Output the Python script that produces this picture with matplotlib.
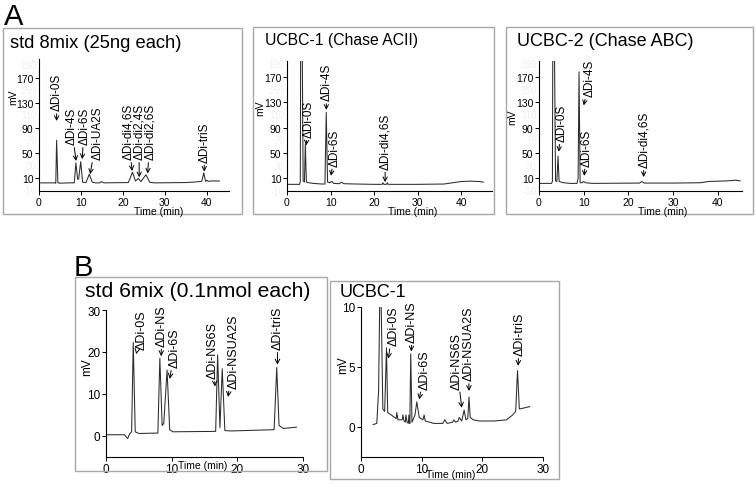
import matplotlib
matplotlib.use("Agg")
import matplotlib.pyplot as plt
from matplotlib.patches import Rectangle

plt.rcParams['font.family'] = ['Liberation Sans', 'DejaVu Sans']

# ---------------- data ----------------
# Panel A1: std 8mix (25ng each)
a1_time = [0.4, 3.8, 4.0, 4.2, 4.5, 5.0, 7.0, 8.4, 8.8, 9.2, 9.45, 9.95, 10.4, 11.2, 12.0, 12.7,
           13.5, 14.5, 14.8, 15.5, 21.3, 22.3, 23.0, 23.7, 24.3, 25.5, 26.4, 27.5, 35.0, 37.5,
           38.8, 39.3, 39.7, 40.0, 40.3, 41.0, 43.0]
a1_mv = [2, 2, 1.5, 70, 2, 1.5, 2, 2, 34, 8, 8, 36, 3, 2.5, 16, 3,
         2, 2, 4, 2, 2.5, 19, 5, 9, 4, 15, 3, 2, 2.5, 3.5,
         4.5, 18, 4.5, 6, 4.5, 5, 5]
a1_names = ['ΔDi-0S', 'ΔDi-4S', 'ΔDi-6S', 'ΔDi-UA2S', 'ΔDi-di4,6S', 'ΔDi-di2,4S', 'ΔDi-di2,6S', 'ΔDi-triS']

# Panel A2: UCBC-1 (Chase ACII)
a2_time = [0, 2.9, 3.05, 3.15, 3.45, 3.7, 4.0, 4.2, 4.45, 5.0, 6.0, 8.0, 8.7, 9.0, 9.3, 9.8,
           10.3, 10.7, 12.0, 12.5, 13.0, 16.0, 20.0, 21.8, 22.0, 22.2, 22.8, 23.0, 23.2, 30.0,
           36.0, 38.0, 40.0, 42.0, 44.0, 45.0]
a2_mv = [0.5, 0.5, 5, 260, 260, 6, 4, 64, 4, 3, 2, 1, 1, 114, 4, 3,
         5, 2, 1.5, 4, 1.5, 1, 0.5, 0.5, 3, 0.5, 0.5, 3, 0.5, 0.5,
         1, 3, 5, 5.5, 5, 4]
a2_names = ['ΔDi-0S', 'ΔDi-4S', 'ΔDi-6S', 'ΔDi-di4,6S']

# Panel A3: UCBC-2 (Chase ABC)
a3_time = [0, 2.8, 3.0, 3.1, 3.4, 3.7, 4.0, 4.25, 4.5, 5.5, 7.0, 8.5, 8.75, 8.95, 9.2, 9.6,
           10.0, 10.4, 12.0, 22.5, 23.0, 23.5, 30, 36, 38, 40, 42, 44, 45]
a3_mv = [2, 2, 5, 260, 260, 6, 5, 45, 5, 3, 2, 2, 10, 178, 3, 3,
         5, 3, 2, 2.5, 5, 2.5, 2.5, 3, 5, 5.5, 6, 7, 6]
a3_names = ['ΔDi-0S', 'ΔDi-4S', 'ΔDi-6S', 'ΔDi-di4,6S']

# Panel B1: std 6mix (0.1nmol each)
b1_time = [0.0, 2.8, 3.3, 3.6, 3.9, 4.15, 4.45, 5.0, 7.9, 8.2, 8.55, 8.8, 9.3, 9.7, 10.2,
           16.7, 17.0, 17.35, 17.7, 18.1, 19.0, 25.6, 26.0, 26.35, 27.0, 29.0]
b1_mv = [0.3, 0.3, -0.6, 0.5, 1.0, 22.3, 1.0, 0.6, 0.7, 18.5, 2.5, 3.0, 15.7, 1.5, 1.0,
         1.1, 19.3, 2.0, 16.0, 1.3, 1.2, 1.5, 16.3, 2.5, 1.8, 2.1]
b_names = ['ΔDi-0S', 'ΔDi-NS', 'ΔDi-6S', 'ΔDi-NS6S', 'ΔDi-NSUA2S', 'ΔDi-triS']

# Panel B2: UCBC-1
b2_time = [2.0, 2.6, 2.9, 3.1, 3.3, 3.6, 3.9, 4.2, 4.4, 5.0, 5.8, 5.9, 6.1, 6.8, 6.9, 7.1,
           7.3, 7.4, 7.6, 7.8, 7.9, 8.05, 8.2, 8.4, 8.9, 9.2, 9.6, 10.2, 10.4, 10.6, 12.0,
           13.5, 13.8, 14.2, 15.1, 15.3, 15.6, 16.0, 16.2, 16.6, 17.0, 17.3, 17.6, 17.8, 18.0,
           18.5, 19.5, 22.0, 24.0, 25.0, 25.5, 25.8, 26.1, 27.0, 27.8]
b2_mv = [0.2, 0.3, 3.0, 11, 11, 1.5, 1.3, 6.6, 1.2, 1.0, 0.7, 1.2, 0.6, 0.6, 1.0, 0.5,
         0.4, 1.0, 0.4, 0.3, 1.0, 0.3, 6.1, 0.4, 1.0, 2.1, 0.8, 0.6, 1.0, 0.5, 0.3,
         0.3, 0.6, 0.3, 0.4, 0.6, 0.4, 0.5, 0.8, 0.5, 1.4, 0.6, 0.7, 2.5, 0.8,
         0.6, 0.5, 0.5, 0.6, 1.0, 1.3, 4.7, 1.5, 1.6, 1.7]

# ---------------- layout ----------------
W, H = 756, 485
fig = plt.figure(figsize=(W / 100, H / 100), dpi=100)


def frac_rect(l, t, r, b):
    return [l / W, 1 - b / H, (r - l) / W, (b - t) / H]


def fx(px):
    return px / W


def fy(py):
    return 1 - py / H


line_col = '#2b2b2b'
box_col = '#a8a8a8'

for (l, t, r, b) in [(3, 29, 242, 215), (253, 28, 494, 215), (506, 28, 753, 215),
                     (75, 278, 327, 472), (330, 282, 559, 480)]:
    fig.patches.append(Rectangle((fx(l), fy(b)), (r - l) / W, (b - t) / H, transform=fig.transFigure,
                                 fill=False, edgecolor=box_col, lw=1.0))


def make_axes(rect, xlim, ylim, xticks, yticks, ticksize):
    ax = fig.add_axes(frac_rect(*rect))
    ax.set_xlim(*xlim)
    ax.set_ylim(*ylim)
    ax.set_xticks(xticks)
    ax.set_yticks(yticks)
    for s in ['top', 'right']:
        ax.spines[s].set_visible(False)
    for s in ['left', 'bottom']:
        ax.spines[s].set_linewidth(0.8)
    ax.tick_params(length=3, width=0.7, pad=1.0, labelsize=ticksize)
    ax.patch.set_alpha(0)
    return ax


def annotate(ax, names, text_pos, tips, size):
    for name, (tx, ty), (ax_, ay) in zip(names, text_pos, tips):
        ax.annotate(name, xy=(ax_, ay), xytext=(tx, ty), rotation=90, ha='center', va='bottom',
                    fontsize=size, annotation_clip=False,
                    arrowprops=dict(arrowstyle='->,head_length=0.35,head_width=0.18', lw=0.7,
                                    color='black', shrinkA=0.5, shrinkB=0))


# ---- A panels ----
a_yt = [10, 50, 90, 130, 170]
a_faint = [-10, 30, 70, 110, 150, 190]

ax1 = make_axes((39, 60, 229, 192), (0, 45.3), (-11, 200), [0, 10, 20, 30, 40], a_yt, 7.5)
ax1.plot(a1_time, a1_mv, color=line_col, lw=0.75)
annotate(ax1, a1_names,
         [(4.2, 118), (7.7, 64), (10.8, 64), (13.9, 40), (21.2, 40), (23.8, 40), (26.6, 40), (39.4, 36)],
         [(4.2, 101), (8.85, 37), (10.3, 40), (12.2, 16), (22.2, 21), (23.9, 11), (25.9, 17), (39.4, 20)],
         8.5)

ax2 = make_axes((287, 62, 492, 192), (0, 47), (-10, 195), [0, 10, 20, 30, 40], a_yt, 7.5)
ax2.plot(a2_time, a2_mv, color=line_col, lw=0.75)
annotate(ax2, a2_names,
         [(4.9, 75), (9.1, 133), (11.0, 30), (22.5, 25)],
         [(4.4, 62), (9.0, 118), (10.1, 14), (22.5, 4)],
         8.5)

ax3 = make_axes((539, 62, 742, 192), (0, 45.4), (-10, 195), [0, 10, 20, 30, 40], a_yt, 7.5)
ax3.plot(a3_time, a3_mv, color=line_col, lw=0.75)
annotate(ax3, a3_names,
         [(5.1, 69), (11.4, 140), (10.7, 30), (23.5, 28)],
         [(4.4, 52), (10.0, 125), (10.1, 14), (23.4, 12)],
         8.5)

for ax in (ax1, ax2, ax3):
    for v in a_faint:
        ax.text(-0.5, v, str(v), ha='right', va='center', fontsize=7, color='#f0f0f0')

# ---- B panels ----
bx1 = make_axes((106, 311, 303, 458), (0, 30), (-5, 30), [0, 10, 20, 30], [0, 10, 20, 30], 8.5)
bx1.plot(b1_time, b1_mv, color=line_col, lw=0.75)
annotate(bx1, b_names,
         [(5.4, 20.7), (8.5, 21.5), (10.5, 16.4), (16.3, 13.8), (19.4, 11.5), (26.2, 20.7)],
         [(4.6, 19.5), (8.4, 19.0), (9.7, 13.6), (16.6, 11.8), (18.6, 9.3), (26.1, 17.0)],
         9)

bx2 = make_axes((361, 308, 543, 458), (0, 30), (-2.5, 10), [0, 10, 20, 30], [0, 5, 10], 8.5)
bx2.plot(b2_time, b2_mv, color=line_col, lw=0.75)
annotate(bx2, b_names,
         [(5.3, 6.8), (8.4, 7.1), (10.5, 3.2), (15.7, 3.2), (17.7, 3.9), (26.1, 6.0)],
         [(4.5, 5.7), (8.3, 6.3), (9.6, 2.3), (16.6, 1.6), (17.8, 3.0), (25.9, 5.1)],
         9)

# ---- titles and labels ----
titles = [('std 8mix (25ng each)', 10, 43, 13.2), ('UCBC-1 (Chase ACII)', 265, 40, 11.3),
          ('UCBC-2 (Chase ABC)', 517, 42, 13.0), ('std 6mix (0.1nmol each)', 85, 292, 15.2),
          ('UCBC-1', 340, 293, 13.0)]
for txt, x, y, s in titles:
    fig.text(fx(x), fy(y), txt, ha='left', va='center', fontsize=s)

for x, y, s in [(13, 97, 7.5), (260, 108, 7.5), (512, 117, 7.5), (87, 367, 8.5), (343, 365, 8.5)]:
    fig.text(fx(x), fy(y), 'mV', rotation=90, ha='center', va='center', fontsize=s)

for x, y, s in [(159, 212, 7.5), (413, 212, 7.5), (663, 212, 7.5), (203, 466, 7.5), (451, 475, 7.5)]:
    fig.text(fx(x), fy(y), 'Time (min)', ha='center', va='center', fontsize=s)

fig.text(fx(4), fy(17), 'A', ha='left', va='center', fontsize=21)
fig.text(fx(74), fy(268), 'B', ha='left', va='center', fontsize=21)

fig.savefig('out.png', dpi=100)
